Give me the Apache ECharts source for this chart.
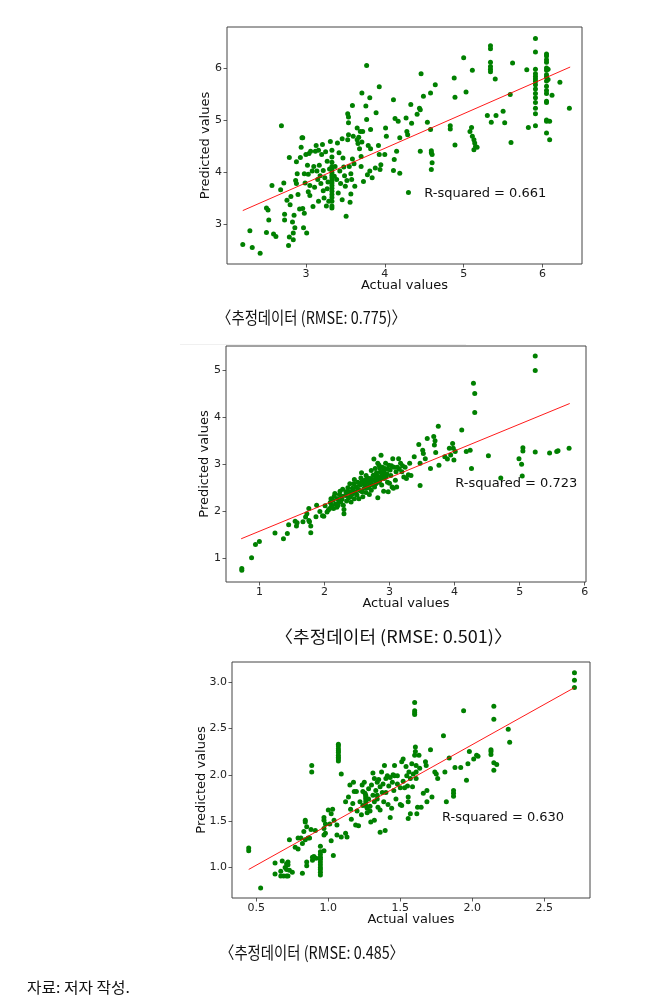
<!DOCTYPE html>
<html><head><meta charset="utf-8">
<script src="https://cdn.jsdelivr.net/npm/echarts@6/dist/echarts.min.js"></script>
<style>html,body{margin:0;padding:0;background:#fff}#c{width:658px;height:1008px}</style>
</head><body><div id="c"></div>
<script>
// ---------- DATA ----------
const p1Points = [[2.20,2.62],[2.29,2.88],[2.32,2.56],[2.42,2.45],[2.50,2.85],[2.50,3.32],[2.52,3.28],[2.53,3.09],[2.57,3.75],[2.59,2.82],[2.62,2.77],[2.69,4.90],[2.68,3.67],[2.72,3.80],[2.73,3.20],[2.73,3.09],[2.76,3.47],[2.78,2.60],[2.79,2.76],[2.79,4.29],[2.80,3.38],[2.81,3.54],[2.83,3.05],[2.84,2.84],[2.84,2.71],[2.85,3.18],[2.86,2.94],[2.87,3.85],[2.88,4.21],[2.88,3.79],[2.89,3.98],[2.90,3.58],[2.92,3.30],[2.93,4.29],[2.94,4.49],[2.95,4.67],[2.96,4.67],[2.96,3.31],[2.97,2.94],[2.98,3.22],[2.98,3.98],[2.99,3.80],[3.00,4.35],[3.01,2.84],[3.02,4.14],[3.03,3.63],[3.03,3.97],[3.04,4.37],[3.05,3.75],[3.05,3.56],[3.06,4.41],[3.08,4.03],[3.09,3.35],[3.10,4.12],[3.11,3.72],[3.12,4.41],[3.13,4.52],[3.14,4.03],[3.15,3.87],[3.16,3.45],[3.16,4.43],[3.17,4.14],[3.18,3.94],[3.19,3.79],[3.20,4.35],[3.21,4.54],[3.22,3.65],[3.22,4.04],[3.23,3.51],[3.24,3.90],[3.25,4.40],[3.26,3.36],[3.27,3.69],[3.27,4.22],[3.28,3.82],[3.29,3.45],[3.30,4.07],[3.31,4.60],
[3.33,4.43],[3.33,4.30],[3.33,4.20],[3.33,4.12],[3.33,4.06],[3.33,4.00],[3.33,3.95],[3.33,3.90],[3.33,3.85],[3.33,3.80],[3.33,3.75],[3.33,3.70],[3.33,3.64],[3.33,3.58],[3.33,3.52],[3.33,3.45],[3.33,3.36],[3.33,3.32],
[3.36,3.93],[3.37,4.12],[3.39,3.87],[3.40,4.57],[3.41,3.61],[3.42,4.38],[3.43,4.03],[3.44,3.79],[3.46,4.65],[3.46,3.48],[3.47,4.28],[3.48,4.11],[3.49,3.94],[3.50,3.74],[3.51,3.16],[3.52,3.85],[3.53,4.63],[3.53,5.13],[3.54,5.07],[3.54,4.96],[3.54,4.73],[3.55,4.12],[3.56,3.43],[3.57,3.59],[3.57,3.98],[3.58,3.87],[3.59,5.29],[3.59,4.26],[3.60,4.70],[3.61,4.17],[3.62,3.74],[3.65,4.86],[3.65,4.63],[3.66,4.56],[3.67,4.68],[3.68,4.46],[3.69,4.79],[3.70,4.31],[3.70,4.12],[3.71,4.59],[3.71,5.53],[3.72,4.79],[3.73,3.83],[3.76,5.28],[3.77,6.06],[3.77,5.02],[3.78,3.96],[3.79,4.52],[3.81,4.03],[3.81,5.44],[3.82,4.83],[3.82,4.46],[3.84,3.90],[3.88,4.09],[3.89,5.15],[3.92,4.52],[3.93,5.65],[3.93,4.35],[3.94,4.06],[3.95,4.15],[4.00,4.35],[4.01,4.86],[4.02,4.70],[4.11,5.40],[4.11,4.04],[4.12,4.25],[4.13,5.04],[4.15,4.41],[4.17,4.99],[4.19,4.67],[4.19,3.99],[4.27,5.05],[4.28,4.79],[4.29,4.73],[4.30,3.62],[4.33,5.31],[4.34,4.95],[4.41,5.12],[4.44,5.24],[4.45,5.21],[4.45,4.41],[4.46,5.90],[4.49,5.47],[4.54,4.97],[4.58,5.53],[4.58,4.83],[4.59,4.42],[4.59,4.38],[4.60,4.35],[4.60,4.19],[4.59,4.06],[4.64,5.69],[4.83,4.90],[4.83,4.84],[4.88,5.82],[4.89,5.45],[4.89,4.53],[5.00,6.21],[5.03,5.55],[5.08,4.79],[5.10,4.87],[5.11,5.97],[5.11,4.70],[5.13,4.63],[5.14,4.57],[5.15,4.50],[5.13,4.44],[5.17,4.49],
[5.34,6.44],[5.34,6.38],[5.34,6.12],[5.34,6.04],[5.34,5.99],[5.34,5.94],[5.30,5.10],[5.35,4.97],[5.40,5.80],[5.41,5.10],[5.50,5.18],[5.52,4.96],[5.59,5.50],[5.60,4.58],[5.62,6.11],[5.80,5.98],[5.82,4.87],
[5.91,6.58],[5.91,6.32],[5.91,5.99],[5.91,5.90],[5.91,5.85],[5.91,5.80],[5.91,5.75],[5.91,5.69],[5.91,5.61],[5.91,5.52],[5.91,5.44],[5.91,5.35],[5.91,5.24],[5.91,5.13],[5.91,4.90],
[6.05,6.28],[6.05,6.24],[6.05,6.17],[6.05,6.12],[6.05,6.01],[6.05,5.97],[6.05,5.88],[6.05,5.84],[6.05,5.76],[6.05,5.66],[6.05,5.58],[6.05,5.52],[6.05,5.37],[6.05,5.35],[6.05,5.01],[6.05,4.99],[6.05,4.76],
[6.07,5.99],[6.07,5.79],[6.09,4.99],[6.09,4.63],[6.12,5.49],[6.22,5.74],[6.34,5.24]];
const p1Line = [[2.20,3.27],[6.35,6.03]];

const p2Points = [[0.73,0.79],[0.73,0.75],[0.88,1.02],[0.94,1.30],[1.00,1.36],[1.24,1.54],[1.37,1.42],[1.43,1.53],[1.45,1.72],[1.55,1.79],[1.57,1.69],[1.58,1.76],[1.67,1.78],[1.71,1.88],[1.73,1.95],[1.76,2.06],[1.76,1.81],[1.77,1.78],[1.79,1.69],[1.79,1.55],[1.87,1.89],[1.88,2.13],[1.93,2.00],[1.97,1.91],[1.99,1.90],[2.01,2.12],[2.04,1.99],[2.06,2.03],[2.08,2.06],[2.09,2.19],[2.10,2.27],[2.11,2.13],[2.13,2.24],[2.14,2.06],[2.15,2.32],[2.16,2.38],[2.17,2.16],[2.19,2.09],[2.20,2.27],[2.22,2.20],[2.23,2.36],[2.24,2.43],[2.25,2.20],[2.27,2.26],[2.28,2.47],[2.29,2.13],[2.30,1.95],[2.30,2.04],[2.32,2.34],[2.33,2.42],[2.34,2.22],[2.36,2.50],[2.37,2.29],[2.38,2.42],[2.39,2.59],[2.41,2.20],[2.42,2.36],[2.43,2.49],[2.45,2.59],[2.46,2.68],[2.46,2.27],[2.47,2.42],[2.49,2.52],[2.50,2.35],[2.51,2.62],[2.52,2.47],[2.53,2.27],[2.55,2.56],[2.56,2.71],[2.57,2.82],[2.58,2.42],[2.59,2.31],[2.60,2.59],[2.61,2.49],[2.62,2.66],[2.63,2.56],[2.64,2.40],[2.65,2.62],[2.66,2.71],[2.68,2.52],[2.69,2.36],[2.69,2.62],[2.70,2.70],[2.72,2.87],[2.72,2.45],[2.73,2.57],[2.75,2.77],[2.76,3.11],[2.76,2.66],[2.77,2.52],[2.78,2.91],[2.79,2.70],[2.79,2.59],[2.80,2.82],[2.82,3.02],[2.82,2.29],[2.83,2.73],[2.84,2.62],[2.85,2.92],[2.86,2.84],[2.87,3.19],[2.87,2.71],[2.88,2.56],[2.89,2.94],[2.90,2.80],[2.91,2.43],[2.92,2.70],[2.93,2.91],[2.94,3.02],[2.96,2.80],[2.97,2.62],[2.98,2.42],[2.99,2.98],[3.01,2.88],[3.02,2.76],[3.04,2.52],[3.05,3.12],[3.06,2.49],[3.07,2.94],[3.09,2.66],[3.10,2.84],[3.11,2.52],[3.14,3.12],[3.15,2.90],[3.17,3.02],[3.19,2.84],[3.22,2.73],[3.24,2.94],[3.26,2.70],[3.29,2.78],[3.31,3.02],[3.33,2.76],[3.38,3.16],[3.45,3.42],[3.47,2.55],[3.47,3.02],[3.51,3.30],[3.52,3.23],[3.55,3.12],[3.58,3.55],[3.63,2.91],[3.68,3.59],[3.69,3.41],[3.70,3.50],[3.71,3.25],[3.75,3.81],[3.76,2.98],[3.85,3.16],[3.89,3.11],[3.92,3.34],[3.94,3.20],[3.97,3.44],[3.98,3.34],[3.99,3.09],[4.01,3.27],[4.11,3.73],[4.18,3.27],[4.24,3.30],[4.26,2.91],[4.29,4.72],[4.31,4.50],[4.31,4.10],[4.52,3.18],[4.71,2.71],[4.99,3.12],[5.03,3.00],[5.04,2.75],[5.05,3.35],[5.05,3.28],[5.24,5.30],[5.24,4.99],[5.24,3.26],[5.46,3.24],[5.57,3.27],[5.59,3.29],[5.76,3.34],
[2.44,2.45],[2.48,2.38],[2.54,2.60],[2.58,2.65],[2.62,2.58],[2.66,2.50],[2.70,2.55],[2.74,2.68],[2.78,2.66],[2.81,2.76],[2.85,2.66],[2.88,2.76],[2.91,2.86],[2.95,2.74],[2.97,2.90],[3.00,2.60],[3.03,2.97],[2.40,2.31],[2.35,2.40],[2.26,2.33],[2.21,2.13],[2.55,2.44],[2.64,2.76],[2.71,2.62],[2.84,2.98],[3.12,2.94],[3.20,2.97]];
const p2Line = [[0.72,1.42],[5.77,4.29]];

const p3Points = [[0.447,1.21],[0.447,1.18],[0.53,0.78],[0.63,1.05],[0.63,0.93],[0.67,0.96],[0.67,0.91],[0.68,1.07],[0.70,1.00],[0.71,1.04],[0.71,0.98],[0.72,1.06],[0.72,1.03],[0.73,0.97],[0.69,0.91],[0.71,0.91],[0.72,0.91],[0.73,1.30],[0.75,0.95],[0.77,1.22],[0.79,1.20],[0.79,1.32],[0.81,1.32],[0.82,1.26],[0.82,0.94],[0.83,1.39],[0.84,1.30],[0.84,1.51],[0.84,1.49],[0.85,1.44],[0.85,1.06],[0.85,1.02],[0.86,1.32],[0.87,1.32],[0.88,1.41],[0.885,2.10],[0.885,2.03],[0.89,1.11],[0.89,1.08],[0.90,1.12],[0.91,1.40],[0.915,1.10],
[0.945,1.17],[0.945,1.14],[0.945,1.11],[0.945,1.09],[0.945,1.06],[0.945,1.03],[0.945,1.00],[0.945,0.98],[0.945,0.95],[0.945,0.92],[0.945,1.23],
[0.97,1.54],[0.97,1.51],[0.97,1.42],[0.97,1.35],[0.97,1.18],[0.98,1.47],[0.98,1.37],[1.00,1.62],[1.01,1.47],[1.02,1.29],[1.02,1.58],[1.03,1.63],[1.035,1.13],[1.04,1.51],
[1.07,2.33],[1.07,2.31],[1.07,2.28],[1.07,2.26],[1.07,2.24],[1.07,2.21],[1.07,2.19],[1.07,2.17],[1.07,2.15],
[1.06,1.46],[1.06,1.35],[1.09,2.01],[1.09,1.33],[1.12,1.71],[1.12,1.37],[1.13,1.33],[1.14,1.76],[1.15,1.89],[1.155,1.63],[1.16,1.52],[1.17,1.69],[1.175,1.92],[1.18,1.82],[1.19,1.46],[1.195,1.82],[1.20,1.61],[1.21,1.45],[1.22,1.71],[1.23,1.57],[1.235,1.89],[1.24,1.82],[1.24,1.67],[1.25,1.92],[1.255,1.80],[1.26,1.78],[1.26,1.76],[1.26,1.74],[1.26,1.71],[1.26,1.67],[1.27,1.64],[1.27,1.59],[1.28,1.85],[1.28,1.74],[1.29,1.66],[1.29,1.61],[1.295,1.49],[1.30,1.89],[1.31,2.02],[1.31,1.78],[1.32,1.71],[1.32,1.96],[1.32,1.51],[1.33,1.83],[1.34,1.92],[1.34,1.78],[1.34,1.74],[1.345,1.65],[1.35,1.95],[1.36,1.87],[1.36,1.62],[1.36,1.38],[1.37,2.03],[1.375,1.81],[1.38,1.90],[1.385,1.71],[1.39,2.10],[1.395,1.40],[1.40,1.96],[1.40,1.81],[1.41,1.99],[1.415,1.68],[1.42,1.88],[1.43,1.97],[1.43,1.54],[1.44,1.64],[1.445,1.92],[1.45,2.00],[1.455,1.83],[1.46,2.10],[1.46,1.99],[1.47,1.74],[1.48,1.90],[1.48,1.99],[1.50,1.68],[1.50,1.86],[1.51,2.14],[1.51,1.67],[1.52,1.93],[1.52,2.17],[1.53,1.86],[1.54,2.09],[1.545,1.99],[1.55,1.88],[1.555,1.53],[1.555,1.76],[1.555,1.71],[1.56,2.03],[1.57,1.96],[1.57,1.58],[1.58,2.12],[1.585,1.87],[1.59,2.01],[1.60,2.21],[1.60,2.78],[1.60,2.69],[1.60,2.67],[1.60,2.65],[1.605,2.30],[1.605,2.25],[1.61,2.10],[1.61,2.03],[1.61,1.96],[1.615,1.58],[1.62,1.65],[1.63,2.21],[1.635,2.07],[1.645,1.65],[1.66,1.80],[1.675,2.14],[1.68,2.10],[1.685,1.83],[1.685,1.71],[1.71,2.27],[1.72,1.76],[1.74,2.03],[1.75,2.01],[1.76,1.96],[1.80,2.42],[1.81,2.03],[1.82,1.71],[1.84,2.18],[1.87,1.83],[1.87,1.80],[1.87,1.77],[1.88,2.08],[1.92,2.08],[1.94,2.69],[1.96,1.94],[1.97,2.12],[1.98,2.25],[2.01,2.17],[2.03,2.21],[2.04,2.20],[2.13,2.27],[2.13,2.25],[2.13,2.22],[2.15,2.74],[2.15,2.60],[2.15,2.13],[2.15,2.05],[2.17,2.11],[2.25,2.49],[2.26,2.35],[2.71,3.10],[2.71,3.02],[2.71,2.94]];
const p3Line = [[0.447,0.98],[2.71,2.94]];

const p1XTicks = [3,4,5,6], p1YTicks = [3,4,5,6];
const p2XTicks = [1,2,3,4,5,6], p2YTicks = [1,2,3,4,5];
const p3XTicks = [0.5,1.0,1.5,2.0,2.5], p3YTicks = [1.0,1.5,2.0,2.5,3.0];

const xAxisName = 'Actual values';
const yAxisName = 'Predicted values';
const r2Labels = ['R-squared = 0.661','R-squared = 0.723','R-squared = 0.630'];
const r2Anchors = [[4.50,3.60],[4.01,2.59],[1.79,1.54]];
const captions = ['〈추정데이터 (RMSE: 0.775)〉','〈추정데이터 (RMSE: 0.501)〉','〈추정데이터 (RMSE: 0.485〉'];
const sourceNote = '자료: 저자 작성.';

// ---------- LAYOUT ----------
const MPL = 'DejaVu Sans';
const KR = '"Noto Sans CJK KR", "Noto Sans", sans-serif';
const grids = [
  {left:227, top:27, width:355, height:237},
  {left:226, top:346, width:360, height:236},
  {left:232, top:662, width:358, height:236}
];
const ranges = [
  {x:[2.0,6.5], y:[2.243,6.80], xt:p1XTicks, yt:p1YTicks, dec:0, yGap:15},
  {x:[0.487,6.02], y:[0.503,5.51], xt:p2XTicks, yt:p2YTicks, dec:0, yGap:14.5},
  {x:[0.331,2.818], y:[0.672,3.216], xt:p3XTicks, yt:p3YTicks, dec:1, yGap:23.5}
];
const pointSets = [p1Points, p2Points, p3Points];
const lineSets = [p1Line, p2Line, p3Line];

function axis(i, isX) {
  const r = ranges[i];
  const ticks = isX ? r.xt : r.yt;
  return {
    type:'value', gridIndex:i,
    min: isX ? r.x[0] : r.y[0], max: isX ? r.x[1] : r.y[1],
    name: isX ? xAxisName : yAxisName,
    nameLocation:'middle', nameGap: isX ? 15.5 : r.yGap,
    nameMoveOverlap:false,
    nameTextStyle:{fontFamily:MPL, fontSize:13, color:'#111'},
    axisLine:{show:false},
    splitLine:{show:false},
    axisTick:{show:true, length:3.5, lineStyle:{color:'#333', width:0.8}, customValues:ticks},
    axisLabel:{customValues:ticks, fontFamily:MPL, fontSize:11, color:'#222', margin: isX ? 4.5 : 5,
      formatter: v => Number(v).toFixed(r.dec)}
  };
}

const chart = echarts.init(document.getElementById('c'), null, {renderer:'canvas'});
const option = {
  animation:false,
  backgroundColor:'#fff',
  grid: grids.map(g => Object.assign({show:true, borderColor:'#444', borderWidth:1, backgroundColor:'transparent'}, g)),
  xAxis: [0,1,2].map(i => axis(i, true)),
  yAxis: [0,1,2].map(i => axis(i, false)),
  series: [].concat(...[0,1,2].map(i => [
    {type:'scatter', xAxisIndex:i, yAxisIndex:i, data:pointSets[i], symbolSize:5,
     itemStyle:{color:'#008000', opacity:1}, z:2},
    {type:'line', xAxisIndex:i, yAxisIndex:i, data:lineSets[i], showSymbol:false, symbol:'none',
     lineStyle:{color:'#ff0000', width:0.9}, z:3}
  ]))
};
chart.setOption(option);

// text annotations
const ctx = document.createElement('canvas').getContext('2d');
function fitScale(text, font, target) { ctx.font = font; return target / ctx.measureText(text).width; }
const capFont = '17px ' + KR;
const capBoxes = [[217,406,318],[275,512,637],[220,404,953]];
const g = [];
r2Anchors.forEach((a, i) => {
  const p = chart.convertToPixel({gridIndex:i}, a);
  g.push({type:'text', x:p[0], y:p[1], z:10, style:{text:r2Labels[i], font:'13px "DejaVu Sans"', fill:'#111', textAlign:'left', textVerticalAlign:'middle'}});
});
captions.forEach((t, i) => {
  const b = capBoxes[i];
  const s = fitScale(t, capFont, b[1]-b[0]);
  g.push({type:'text', x:b[0], y:b[2], scaleX:s, z:10, style:{text:t, font:capFont, fill:'#111', textAlign:'left', textVerticalAlign:'middle'}});
});
{
  const f = '15px ' + KR;
  const s = fitScale(sourceNote, f, 103);
  g.push({type:'text', x:27, y:987, scaleX:s, z:10, style:{text:sourceNote, font:f, fill:'#111', textAlign:'left', textVerticalAlign:'middle'}});
}
g.push({type:'line', z:1, shape:{x1:180, y1:344.5, x2:466, y2:344.5}, style:{stroke:'#f0f0f0', lineWidth:1}});
chart.setOption({graphic:g});
</script>
</body></html>
